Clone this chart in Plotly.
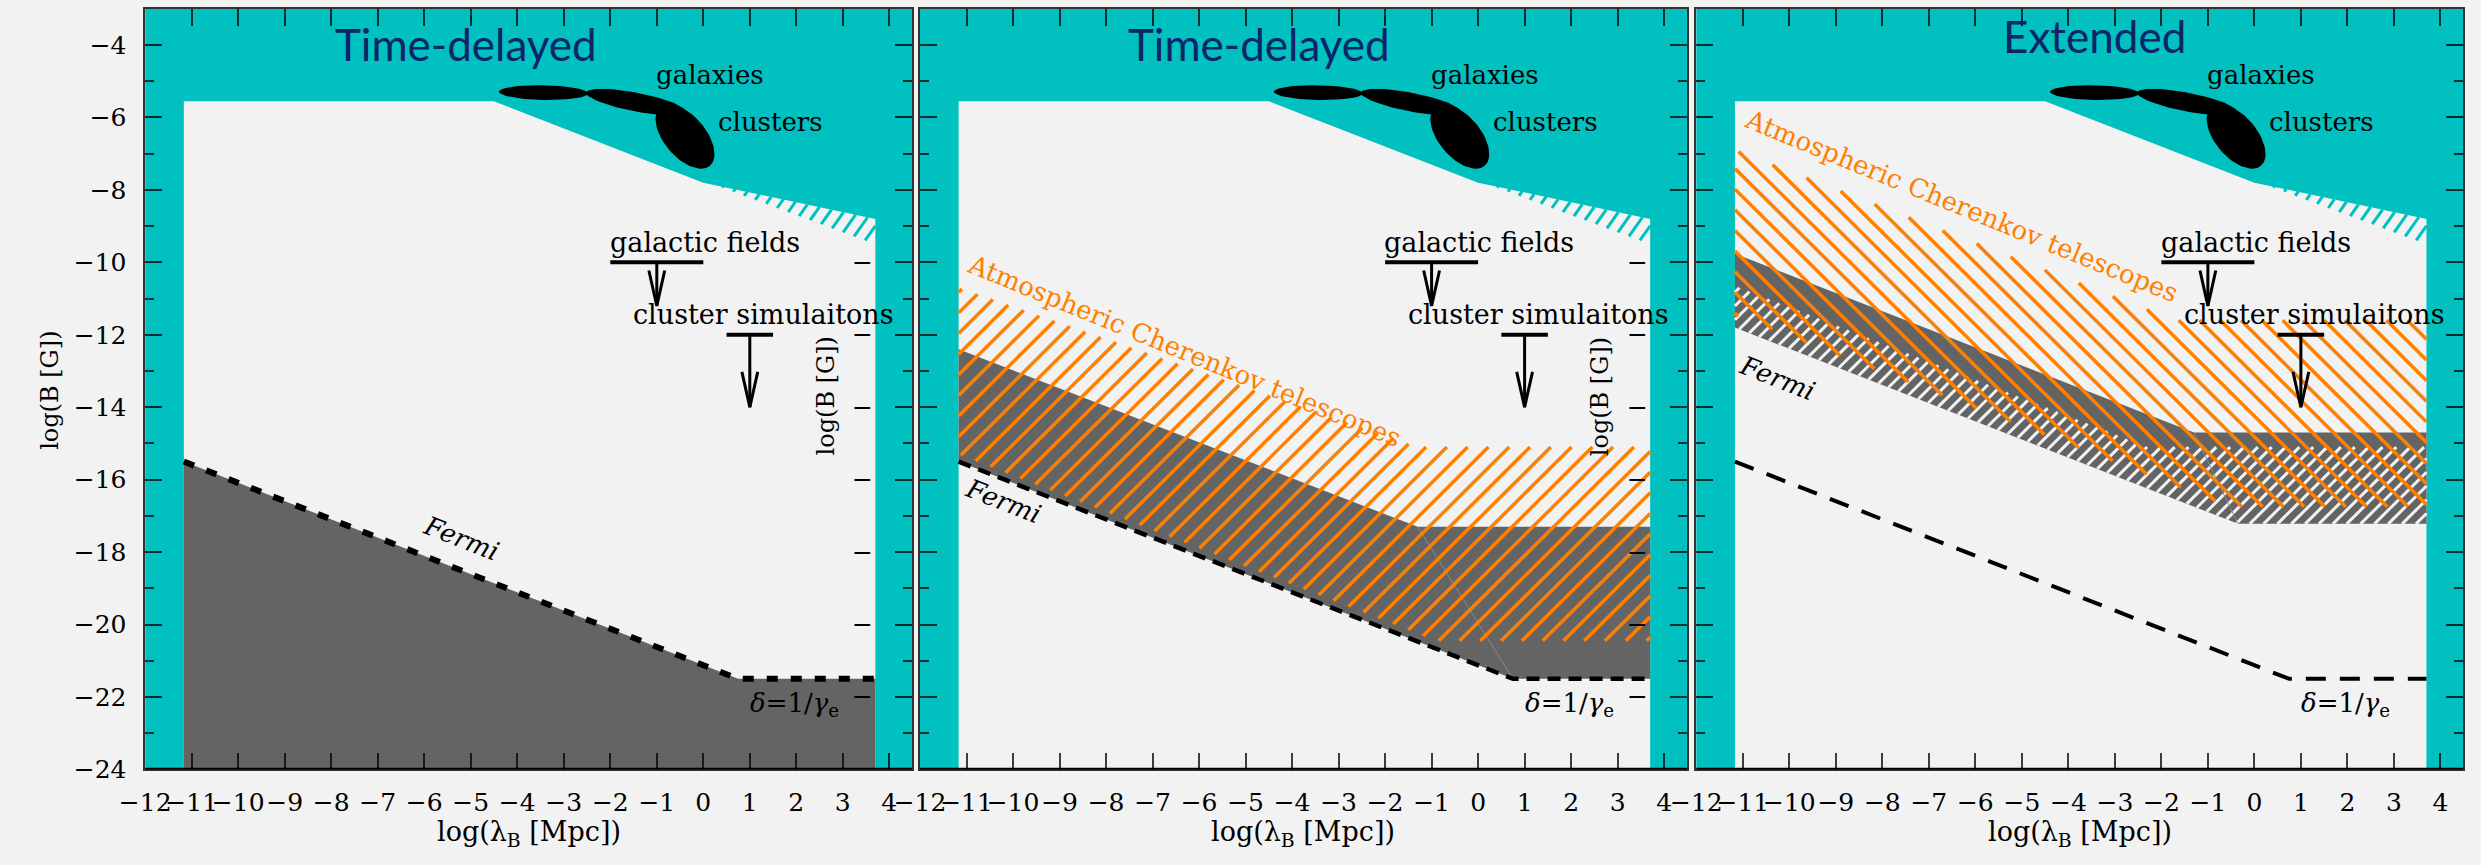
import math
import plotly.graph_objects as go

W, H = 2481, 865

# ---------------- data ----------------
x_tick_values = list(range(-12, 5))
panel_titles = ["Time-delayed", "Time-delayed", "Extended"]
title_x = [-5.1, -4.71, -3.43]
title_y = [-3.97, -3.97, -3.76]

allowed_x = [-11.17, -11.17, -4.5, 0.0, 3.7, 3.7]
allowed_y = [-24.0, -5.55, -5.55, -7.8, -8.8, -24.0]
wedge_x = [0.2, 3.7, 3.7]
wedge_y = [-7.84, -8.8, -9.5]

fermi_x = [-11.17, 0.75, 3.7]
fermi_y = [-15.5, -21.5, -21.5]

td_band_top_x = [-11.17, -1.3, 3.7]
td_band_top_y = [-12.4, -17.3, -17.3]
td_act_top_x = [-11.17, -1.3, 3.7]
td_act_top_y = [-10.7, -15.1, -15.1]
td_act_bot_x = [-11.17, -0.9, 3.7]
td_act_bot_y = [-15.3, -20.45, -20.45]

ext_band_top_x = [-11.17, -1.3, 3.7]
ext_band_top_y = [-9.76, -14.7, -14.7]
ext_band_bot_x = [-11.17, -0.35, 3.7]
ext_band_bot_y = [-11.8, -17.22, -17.22]
ext_hatch_top_x = [-11.17, -2.3, 3.7]
ext_hatch_top_y = [-10.65, -15.1, -15.1]
ext_act_top_x = [-11.17, -1.7, 3.7]
ext_act_top_y = [-6.9, -11.6, -11.6]
ext_act_bot_x = [-11.17, -0.5, 3.7]
ext_act_bot_y = [-11.45, -16.75, -16.75]

gal_bar_x = [-2.0, 0.0]
gal_bar_y = -10.0
gal_arrow_x = -1.0
gal_arrow_tip = -11.2
clu_bar_x = [0.5, 1.5]
clu_bar_y = -12.0
clu_arrow_x = 1.0
clu_arrow_tip = -14.0

label_texts = ["galaxies", "clusters", "galactic fields", "cluster simulaitons"]
label_x = [0.15, 1.44, 0.03, 1.29]
label_y = [-4.83, -6.12, -9.45, -11.44]
fermi_label_x = [-5.22, -10.22, -10.26]
fermi_label_y = [-17.62, -16.6, -13.2]
act_label_x = [-6.31, -6.3]
act_label_y = [-12.44, -8.45]
delta_label_x = 1.97
delta_label_y = -22.2

# ---------------- layout geometry ----------------
X_RANGE = [-12.0, 4.49]
Y_RANGE = [-24.0, -3.0]
panel_px = [(120.5, 895.5), (903.5, 1678.5), (1688.0, 2463.0)]
top_px, bot_px = 9.0, 783.0
PXX = (panel_px[0][1] - panel_px[0][0]) / (X_RANGE[1] - X_RANGE[0])
PXY = (bot_px - top_px) / (Y_RANGE[1] - Y_RANGE[0])

CYAN = "#00c0c0"
LIGHT = "#f2f2f2"
GRAY = "#646464"
ORANGE = "#ff8000"
NAVY = "#0c2568"
SERIF = "DejaVu Serif"

fig = go.Figure()


def axn(i):
    return "" if i == 0 else str(i + 1)


def add(i, **kw):
    kw.setdefault("hoverinfo", "skip")
    kw.setdefault("showlegend", False)
    fig.add_trace(go.Scatter(xaxis="x" + axn(i), yaxis="y" + axn(i), **kw))


def polygon(i, xs, ys, color):
    add(i, x=list(xs) + [xs[0]], y=list(ys) + [ys[0]], mode="lines",
        fill="toself", fillcolor=color, line=dict(width=0, color=color))


def hatch_lines(poly_x, poly_y, angle_deg, spacing_px, direction):
    U = [x * PXX for x in poly_x]
    V = [y * PXY for y in poly_y]
    k = direction / math.tan(math.radians(angle_deg))
    n = len(U)
    cs = [U[j] - k * V[j] for j in range(n)]
    c = math.floor(min(cs) / spacing_px) * spacing_px
    xs, ys = [], []
    while c <= max(cs):
        pts = []
        for j in range(n):
            u1, v1 = U[j], V[j]
            u2, v2 = U[(j + 1) % n], V[(j + 1) % n]
            f1 = u1 - k * v1 - c
            f2 = u2 - k * v2 - c
            if (f1 < 0) != (f2 < 0):
                t = f1 / (f1 - f2)
                pts.append((u1 + t * (u2 - u1), v1 + t * (v2 - v1)))
        pts.sort(key=lambda p: p[1])
        for j in range(0, len(pts) - 1, 2):
            (ua, va), (ub, vb) = pts[j], pts[j + 1]
            xs += [ua / PXX, ub / PXX, None]
            ys += [va / PXY, vb / PXY, None]
        c += spacing_px
    return xs, ys


def hatch(i, poly_x, poly_y, angle, spacing, direction, color, width):
    xs, ys = hatch_lines(poly_x, poly_y, angle, spacing, direction)
    add(i, x=xs, y=ys, mode="lines", line=dict(color=color, width=width))


def ellipse(i, cx, cy, a, b, phi_deg):
    phi = math.radians(phi_deg)
    xs, ys = [], []
    for s in range(73):
        t = 2 * math.pi * s / 72
        du = a * math.cos(t) * math.cos(phi) - b * math.sin(t) * math.sin(phi)
        dv = a * math.cos(t) * math.sin(phi) + b * math.sin(t) * math.cos(phi)
        xs.append(cx + du / PXX)
        ys.append(cy - dv / PXY)
    add(i, x=xs, y=ys, mode="lines", fill="toself", fillcolor="black",
        line=dict(color="black", width=0))


def band(top_x, top_y, bot_x, bot_y):
    return list(top_x) + list(bot_x)[::-1], list(top_y) + list(bot_y)[::-1]


def common_top(i):
    polygon(i, allowed_x, allowed_y, LIGHT)
    hatch(i, wedge_x, wedge_y, 55, 14, 1, CYAN, 3)


def common_marks(i):
    for bx, by, ax, tip in [(gal_bar_x, gal_bar_y, gal_arrow_x, gal_arrow_tip),
                            (clu_bar_x, clu_bar_y, clu_arrow_x, clu_arrow_tip)]:
        add(i, x=bx, y=[by, by], mode="lines", line=dict(color="black", width=4))
        add(i, x=[ax, ax], y=[by, tip], mode="lines", line=dict(color="black", width=3))
        add(i, x=[ax - 8 / PXX, ax, ax + 8 / PXX],
            y=[tip + 36 / PXY, tip, tip + 36 / PXY], mode="lines",
            line=dict(color="black", width=3))
    ellipse(i, -3.436, -5.311, 45, 7.5, 1)
    ellipse(i, -1.451, -5.574, 51, 9.5, 11)
    ellipse(i, -0.394, -6.524, 39, 21, 50)


# ---- panel 1: time-delayed, Fermi only ----
common_top(0)
px1, py1 = band(fermi_x, fermi_y, [fermi_x[0], fermi_x[-1]], [-24.0, -24.0])
polygon(0, px1, py1, GRAY)
add(0, x=fermi_x, y=fermi_y, mode="lines",
    line=dict(color="black", width=6, dash="11px,13px"))
common_marks(0)

# ---- panel 2: time-delayed with ACT ----
common_top(1)
px2, py2 = band(td_band_top_x, td_band_top_y, fermi_x, fermi_y)
polygon(1, px2, py2, GRAY)
add(1, x=[td_band_top_x[1], fermi_x[1]], y=[td_band_top_y[1], fermi_y[1]],
    mode="lines", line=dict(color="#8a8a8a", width=1))
hx, hy = band(td_act_top_x, td_act_top_y, td_act_bot_x, td_act_bot_y)
hatch(1, hx, hy, 45, 21, 1, ORANGE, 3.5)
add(1, x=fermi_x, y=fermi_y, mode="lines",
    line=dict(color="black", width=4.5, dash="13px,8px"))
common_marks(1)

# ---- panel 3: extended ----
common_top(2)
px3, py3 = band(ext_band_top_x, ext_band_top_y, ext_band_bot_x, ext_band_bot_y)
polygon(2, px3, py3, GRAY)
wx, wy = band(ext_hatch_top_x, ext_hatch_top_y, ext_band_bot_x, ext_band_bot_y)
hatch(2, wx, wy, 45, 14, 1, LIGHT, 3)
add(2, x=[ext_band_top_x[1], ext_band_bot_x[1]], y=[ext_band_top_y[1], ext_band_bot_y[1]],
    mode="lines", line=dict(color="#8a8a8a", width=1))
ox, oy = band(ext_act_top_x, ext_act_top_y, ext_act_bot_x, ext_act_bot_y)
hatch(2, ox, oy, 45, 21, -1, ORANGE, 3.5)
add(2, x=fermi_x, y=fermi_y, mode="lines",
    line=dict(color="black", width=4, dash="20px,14px"))
common_marks(2)

# ---------------- axes ----------------
ydom = [1 - bot_px / H, 1 - top_px / H]
tick_col = "rgba(0,0,0,0.75)"
layout = dict(width=W, height=H, margin=dict(l=0, r=0, t=0, b=0), autosize=False,
              paper_bgcolor=LIGHT, plot_bgcolor=CYAN, showlegend=False)
for i in range(3):
    n = axn(i)
    layout["xaxis" + n] = dict(
        domain=[panel_px[i][0] / W, panel_px[i][1] / W], range=X_RANGE,
        anchor="y" + n, tickmode="array", tickvals=x_tick_values,
        ticktext=[("−" + str(-v)) if v < 0 else str(v) for v in x_tick_values],
        tickangle=0,
        ticks="inside", ticklen=17, tickwidth=1.5, tickcolor=tick_col,
        showline=True, linecolor="#333333", linewidth=1.5, mirror="ticks",
        showgrid=False, zeroline=False, ticklabelstandoff=10,
        tickfont=dict(family=SERIF, size=25, color="black"), fixedrange=True)
    layout["yaxis" + n] = dict(
        domain=ydom, range=Y_RANGE, anchor="x" + n,
        tickmode="linear", tick0=-24, dtick=2,
        ticks="inside", ticklen=17, tickwidth=1.5, tickcolor=tick_col,
        minor=dict(dtick=1, tick0=-24, ticks="inside", ticklen=9, tickwidth=1.5,
                   tickcolor=tick_col),
        showline=True, linecolor="#333333", linewidth=1.5, mirror="ticks",
        showgrid=False, zeroline=False, showticklabels=(i == 0),
        ticklabelstandoff=12,
        tickfont=dict(family=SERIF, size=25, color="black"), fixedrange=True)
fig.update_layout(**layout)

shapes = []
anns = []


def ann(**kw):
    kw.setdefault("showarrow", False)
    kw.setdefault("xanchor", "center")
    kw.setdefault("yanchor", "middle")
    anns.append(kw)


for i in range(3):
    n = axn(i)
    shapes.append(dict(type="line", xref="x" + n + " domain", yref="y" + n,
                       x0=0, x1=1, y0=Y_RANGE[0], y1=Y_RANGE[0],
                       line=dict(color="black", width=3.5), layer="above"))
    ann(xref="x" + n, yref="y" + n, x=title_x[i], y=title_y[i], text=panel_titles[i],
        font=dict(family="Lato", size=44, color=NAVY))
    for t, lx, ly in zip(label_texts, label_x, label_y):
        ann(xref="x" + n, yref="y" + n, x=lx, y=ly, text=t,
            font=dict(family=SERIF, size=26 if t in ("galaxies", "clusters") else 27,
                      color="black"))
    ann(xref="x" + n, yref="y" + n, x=fermi_label_x[i], y=fermi_label_y[i],
        text="<i>Fermi</i>", textangle=21.4,
        font=dict(family=SERIF, size=26, color="black"))
    ann(xref="x" + n, yref="y" + n, x=delta_label_x, y=delta_label_y,
        text="<i>δ</i>=1/<i>γ</i><sub>e</sub>",
        font=dict(family=SERIF, size=26, color="black"))
    ann(xref="x" + n + " domain", yref="paper", x=0.5, y=1 - 848 / H,
        text="log(λ<sub>B</sub> [Mpc])",
        font=dict(family=SERIF, size=27, color="black"))
    if i >= 1:
        ann(xref="x" + n, yref="y" + n, x=act_label_x[i - 1], y=act_label_y[i - 1],
            text="Atmospheric Cherenkov telescopes", textangle=22.3,
            font=dict(family=SERIF, size=26, color=ORANGE))
    if i <= 1:
        # tick labels / title of the next panel peeking through
        for yv in range(-22, -9, 2):
            ann(xref="x" + n, yref="y" + n, x=3.42, y=yv, text="−",
                font=dict(family=SERIF, size=25, color="black"))
        ann(xref="x" + n, yref="y" + n, x=3.84, y=-24.3, text="−24",
            font=dict(family=SERIF, size=25, color="black"))
        ann(xref="x" + n, yref="y" + n, x=2.64, y=-13.7, text="log(B [G])",
            textangle=-90, font=dict(family=SERIF, size=24, color="black"))

ann(xref="paper", yref="paper", x=24 / W, y=1 - 397 / H, text="log(B [G])",
    textangle=-90, font=dict(family=SERIF, size=24, color="black"))
fig.update_layout(shapes=shapes, annotations=anns)

fig.write_html("out.html")
